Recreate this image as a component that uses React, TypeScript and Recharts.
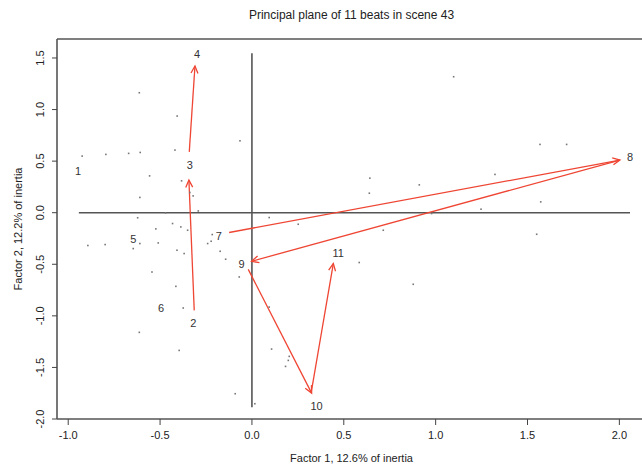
import { ScatterChart, Scatter, XAxis, YAxis, ReferenceLine } from 'recharts';

// beats: label positions on the principal plane
const beatLabels = ['1', '2', '3', '4', '5', '6', '7', '8', '9', '10', '11'];
const beatX = [-0.947, -0.319, -0.338, -0.298, -0.646, -0.494, -0.18, 2.058, -0.056, 0.352, 0.47];
const beatY = [0.403, -1.066, 0.461, 1.539, -0.257, -0.924, -0.222, 0.542, -0.5, -1.879, -0.39];

// arrows between consecutive beats (start -> end)
const arrowFromX = [-0.314, -0.341, -0.124, 2.003, -0.02, 0.322];
const arrowFromY = [-0.947, 0.59, -0.192, 0.51, -0.549, -1.749];
const arrowToX = [-0.343, -0.31, 2.003, -0.002, 0.325, 0.443];
const arrowToY = [0.316, 1.422, 0.51, -0.471, -1.749, -0.493];

// individual shots (small dots)
const dotX = [
  -0.613, -0.407, -0.065, -0.924, -0.795, -0.671, -0.608, -0.419, -0.557, -0.383, -0.338, -0.32,
  -0.61, -0.292, -0.47, 0.094, 0.252, -0.622, -0.523, -0.432, -0.387, -0.35, -0.216, -0.222,
  -0.241, -0.893, -0.799, -0.61, -0.51, -0.646, -0.408, -0.369, -0.173, -0.143, -0.544, -0.414,
  -0.069, -0.374, 0.094, -0.613, 0.107, -0.396, 0.203, 0.198, 0.183, -0.091, 0.016, 1.098,
  1.568, 1.713, 0.642, 0.639, 0.911, 1.323, 1.572, 1.247, 0.978, 0.715, 1.55, 0.584, 0.878,
];
const dotY = [
  1.163, 0.937, 0.697, 0.549, 0.565, 0.575, 0.584, 0.607, 0.357, 0.309, 0.196, 0.163,
  0.148, 0.017, -0.002, -0.047, -0.112, -0.049, -0.157, -0.105, -0.138, -0.17, -0.212, -0.277,
  -0.299, -0.318, -0.309, -0.299, -0.293, -0.348, -0.364, -0.396, -0.374, -0.451, -0.575, -0.714,
  -0.623, -0.924, -0.915, -1.16, -1.322, -1.335, -1.393, -1.432, -1.49, -1.755, -1.852, 1.318,
  0.662, 0.662, 0.335, 0.189, 0.27, 0.371, 0.105, 0.034, -0.008, -0.17, -0.209, -0.483, -0.694,
];

const xTicks = [-1, -0.5, 0, 0.5, 1, 1.5, 2];
const yTicks = [-2, -1.5, -1, -0.5, 0, 0.5, 1, 1.5];

const X_DOMAIN: [number, number] = [-1.061, 2.145];
const Y_DOMAIN: [number, number] = [-2.0, 1.684];

const beats = beatLabels.map((label, i) => ({ x: beatX[i], y: beatY[i], label }));
const dots = dotX.map((x, i) => ({ x, y: dotY[i] }));
const arrows = arrowFromX.map((x, i) => [
  { x, y: arrowFromY[i] },
  { x: arrowToX[i], y: arrowToY[i] },
]);

const FONT = '"Liberation Sans", Arial, Helvetica, sans-serif';
const RED = '#ef4634';

function Arrow(props: any) {
  const { x1, y1, x2, y2 } = props;
  const a = Math.atan2(y2 - y1, x2 - x1);
  const len = 8;
  const spread = Math.PI / 7;
  const h1x = x2 - len * Math.cos(a - spread);
  const h1y = y2 - len * Math.sin(a - spread);
  const h2x = x2 - len * Math.cos(a + spread);
  const h2y = y2 - len * Math.sin(a + spread);
  return (
    <g>
      <line x1={x1} y1={y1} x2={x2} y2={y2} stroke={RED} strokeWidth={1.3} />
      <polyline points={`${h1x},${h1y} ${x2},${y2} ${h2x},${h2y}`} fill="none" stroke={RED} strokeWidth={1.3} />
    </g>
  );
}

function YTick(props: any) {
  const { x, y, payload } = props;
  return (
    <text x={x} y={y} transform={`rotate(-90, ${x}, ${y})`} textAnchor="middle" fontSize={11} fill="#222" fontFamily={FONT}>
      {payload.value.toFixed(1)}
    </text>
  );
}

export default function App() {
  return (
    <div style={{ position: 'absolute', left: 0, top: 0, width: 642, height: 466, background: '#fff', fontFamily: FONT }}>
      <div style={{ position: 'absolute', left: 0, top: 8, width: 703, textAlign: 'center', fontSize: 12, color: '#222' }}>
        Principal plane of 11 beats in scene 43
      </div>
      <div style={{ position: 'absolute', left: 0, top: 452, width: 703, textAlign: 'center', fontSize: 11, color: '#222' }}>
        Factor 1, 12.6% of inertia
      </div>
      <div
        style={{
          position: 'absolute', left: 18, top: 229, fontSize: 11, color: '#222', whiteSpace: 'nowrap',
          transform: 'translate(-50%, -50%) rotate(-90deg)', transformOrigin: 'center',
        }}
      >
        Factor 2, 12.2% of inertia
      </div>
      <ScatterChart width={642} height={466} margin={{ top: 39, right: -4, bottom: 0, left: 0 }} style={{ position: 'absolute', left: 0, top: 0 }}>
        <XAxis
          type="number"
          dataKey="x"
          domain={X_DOMAIN}
          ticks={xTicks}
          allowDataOverflow
          tickFormatter={(v: number) => v.toFixed(1)}
          tick={{ fontSize: 11, fill: '#222', fontFamily: FONT }}
          tickLine={{ stroke: '#444' }}
          axisLine={false}
          tickSize={6}
          tickMargin={6}
          height={47}
        />
        <YAxis
          type="number"
          dataKey="y"
          domain={Y_DOMAIN}
          ticks={yTicks}
          allowDataOverflow
          tick={<YTick />}
          tickLine={{ stroke: '#444' }}
          axisLine={false}
          tickSize={5}
          tickMargin={8}
          width={57}
        />
        <ReferenceLine y={Y_DOMAIN[1]} stroke="#555" strokeWidth={1.6} />
        <ReferenceLine y={Y_DOMAIN[0]} stroke="#555" strokeWidth={1.6} />
        <ReferenceLine x={X_DOMAIN[0]} stroke="#555" strokeWidth={1.6} />
        <ReferenceLine segment={[{ x: -0.942, y: 0 }, { x: 2.058, y: 0 }]} stroke="#555" strokeWidth={1.6} />
        <ReferenceLine segment={[{ x: 0, y: 1.546 }, { x: 0, y: -1.885 }]} stroke="#555" strokeWidth={1.6} />
        <Scatter
          data={dots}
          isAnimationActive={false}
          shape={(p: any) => <rect x={p.cx - 0.8} y={p.cy - 0.8} width={1.6} height={1.6} fill="#777" />}
        />
        {arrows.map((seg, i) => (
          <ReferenceLine key={i} segment={seg} shape={(p: any) => <Arrow {...p} />} />
        ))}
        <Scatter
          data={beats}
          isAnimationActive={false}
          shape={(p: any) => (
            <text x={p.cx} y={p.cy} dy="0.36em" textAnchor="middle" fontSize={11} fill="#333" fontFamily={FONT}>
              {p.payload.label}
            </text>
          )}
        />
      </ScatterChart>
    </div>
  );
}
